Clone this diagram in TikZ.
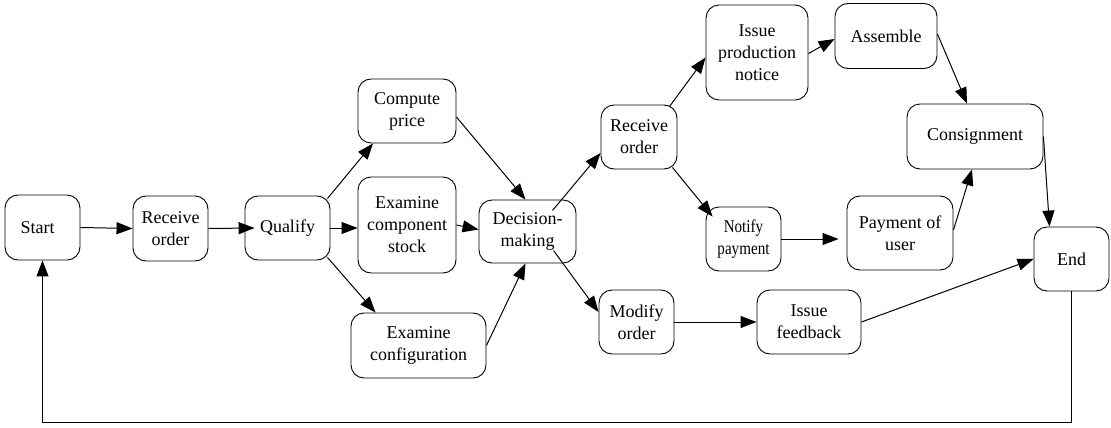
\documentclass[tikz,border=0pt]{standalone}
\usepackage{fontspec}
\setmainfont{Liberation Serif}
\newfontfamily\narrowfont{Liberation Serif}[FakeStretch=0.84]
\usetikzlibrary{arrows.meta}
\begin{document}
\begin{tikzpicture}[x=1pt,y=-1pt,
  box/.style={draw,line width=0.9pt,rounded corners=13pt,inner sep=0pt,align=center,
    font=\fontsize{18}{22}\selectfont},
  arr/.style={line width=1pt,-{Triangle[length=16pt,width=12pt]}},
  ln/.style={line width=0.9pt}]
\useasboundingbox (0,0) rectangle (1111,428);
\node[box,minimum width=75,minimum height=65] (start) at (42.5,227.5) {Start\hspace{10pt}};
\node[box,minimum width=75,minimum height=65] (ro1) at (170.5,228.5) {Receive\\order};
\node[box,minimum width=85,minimum height=64] (qual) at (287.5,228) {Qualify};
\node[box,minimum width=98,minimum height=64] (cp) at (407,111) {Compute\\price};
\node[box,minimum width=98,minimum height=96] (ecs) at (407,225) {Examine\\component\\stock};
\node[box,minimum width=135,minimum height=65] (ecf) at (418.5,345.5) {Examine\\configuration};
\node[box,minimum width=97,minimum height=63] (dm) at (527.5,231.5) {Decision-\\making};
\node[box,minimum width=76,minimum height=64] (ro2) at (639,137) {Receive\\order};
\node[box,minimum width=102,minimum height=95] (ipn) at (757,52.5) {Issue\\production\\notice};
\node[box,minimum width=102,minimum height=65] (asm) at (886,36) {Assemble};
\node[box,minimum width=136,minimum height=65] (cons) at (975,136.5) {Consignment};
\node[box,minimum width=75,minimum height=64,font=\narrowfont\fontsize{18}{22}\selectfont] (np) at (743.5,239) {Notify\\payment};
\node[box,minimum width=106,minimum height=74] (pu) at (900,233) {Payment of\\user};
\node[box,minimum width=75,minimum height=64] (mo) at (636.5,322) {Modify\\order};
\node[box,minimum width=104,minimum height=64] (ifb) at (809,322) {Issue\\feedback};
\node[box,minimum width=75,minimum height=64] (end) at (1071.5,259) {End};
\coordinate (loop) at (42.5,422);

\draw[arr] (start.east) -- (ro1.west);
\draw[arr] (ro1.east) -- ([xshift=10]qual.west);
\draw[arr] ([xshift=-3,yshift=-3]qual.north east) -- ([xshift=-34]cp.south);
\draw[arr] (qual.east) -- (qual.east -| ecs.west);
\draw[arr] ([xshift=-3,yshift=3]qual.south east) -- ([xshift=-43]ecf.north);
\draw[arr] ([yshift=-6]cp.east) -- ([xshift=-2]dm.north);
\draw[arr] (ecs.east) -- ([yshift=2]dm.west);
\draw[arr] (ecf.east) -- ([xshift=-2]dm.south);
\draw[arr] ([xshift=25,yshift=21]dm.center) -- ([yshift=-16]ro2.west);
\draw[arr] ([xshift=26,yshift=-19]dm.center) -- ([yshift=10]mo.west);
\draw[arr] ([xshift=-8,yshift=-2]ro2.north east) -- ([yshift=-5]ipn.west);
\draw[arr] ([xshift=-5,yshift=2]ro2.south east) -- ([xshift=7,yshift=-10]np.north west);
\draw[arr] ([yshift=-1]ipn.east) -- ([yshift=-3]asm.west);
\draw[arr] ([yshift=2]asm.east) -- ([xshift=-8]cons.north);
\draw[arr] (np.east) -- ([xshift=-8]np.east -| pu.west);
\draw[arr] ([yshift=3]pu.east) -- ([xshift=-3]cons.south);
\draw[arr] (cons.east) -- ([xshift=-22]end.north);
\draw[arr] (mo.east) -- (mo.east -| ifb.west);
\draw[arr] (ifb.east) -- (end.west);
\draw[arr] (end.south) -- (end.south |- loop) -- (loop) -- (start.south);
\end{tikzpicture}
\end{document}
